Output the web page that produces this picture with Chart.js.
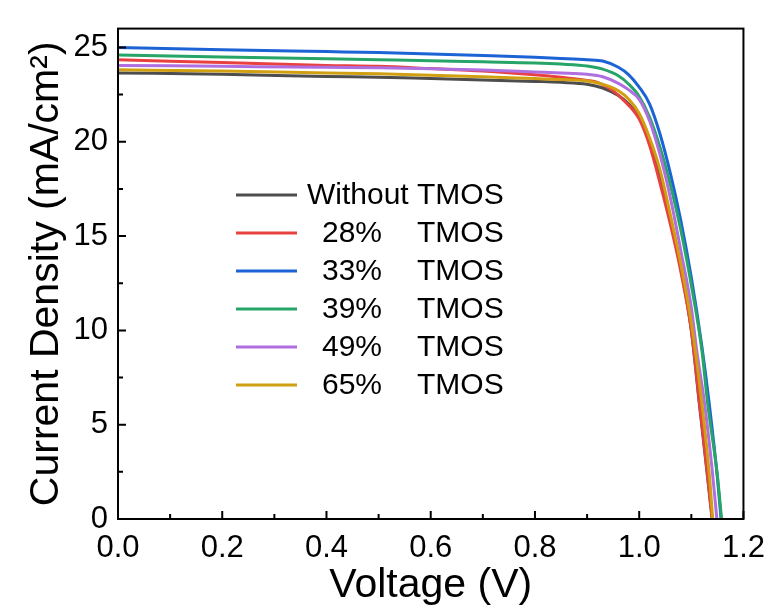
<!DOCTYPE html>
<html>
<head>
<meta charset="utf-8">
<script src="https://cdn.jsdelivr.net/npm/chart.js@4.4.0/dist/chart.umd.min.js"></script>
<style>
  html, body { margin: 0; padding: 0; background: #fff; }
  #wrap { width: 776px; height: 616px; }
</style>
</head>
<body>
<div id="wrap"><canvas id="jv"></canvas></div>
<script>
// J-V curves, voltage (V) and current density (mA/cm2)
var labels = ["Without TMOS", "28% TMOS", "33% TMOS", "39% TMOS", "49% TMOS", "65% TMOS"];
var colors = ["#4d4d4d", "#e8413f", "#1c63d6", "#27a468", "#b06fe0", "#d19f12"];

var vWithout = [0, 0.2, 0.4, 0.5, 0.6, 0.7, 0.8, 0.85, 0.9, 0.93, 0.96, 0.98, 1.0, 1.02, 1.04, 1.06, 1.08, 1.1, 1.115, 1.13, 1.14];
var jWithout = [23.65, 23.58, 23.46, 23.42, 23.35, 23.28, 23.2, 23.15, 23.05, 22.85, 22.45, 22.0, 21.3, 20.0, 18.2, 15.9, 13.3, 10.0, 6.2, 2.5, 0];

var v28 = [0, 0.2, 0.4, 0.5, 0.6, 0.7, 0.8, 0.85, 0.9, 0.92, 0.95, 0.97, 1.0, 1.02, 1.04, 1.06, 1.08, 1.1, 1.115, 1.13, 1.14];
var j28 = [24.35, 24.2, 24.05, 24.0, 23.88, 23.75, 23.55, 23.42, 23.25, 23.15, 22.7, 22.2, 21.2, 19.8, 17.8, 15.6, 13.1, 10.0, 6.3, 2.6, 0];

var v33 = [0, 0.2, 0.4, 0.5, 0.6, 0.7, 0.8, 0.85, 0.9, 0.93, 0.96, 0.98, 1.0, 1.02, 1.04, 1.06, 1.08, 1.1, 1.12, 1.134, 1.15, 1.157];
var j33 = [25.0, 24.88, 24.78, 24.73, 24.65, 24.57, 24.48, 24.42, 24.35, 24.28, 23.95, 23.55, 22.9, 22.0, 20.4, 18.3, 15.8, 12.8, 9.2, 6.2, 2.2, 0];

var v39 = [0, 0.2, 0.4, 0.5, 0.6, 0.7, 0.8, 0.85, 0.9, 0.93, 0.96, 0.98, 1.0, 1.02, 1.04, 1.06, 1.08, 1.1, 1.12, 1.131, 1.15, 1.158];
var j39 = [24.6, 24.5, 24.4, 24.35, 24.3, 24.24, 24.18, 24.12, 24.02, 23.85, 23.5, 23.05, 22.4, 21.3, 19.7, 17.7, 15.3, 12.4, 9.0, 6.2, 2.3, 0];

var v49 = [0, 0.2, 0.4, 0.5, 0.6, 0.7, 0.8, 0.85, 0.9, 0.93, 0.96, 0.98, 1.0, 1.02, 1.04, 1.06, 1.08, 1.1, 1.11, 1.125, 1.14, 1.149];
var j49 = [24.05, 24.0, 23.95, 23.93, 23.87, 23.8, 23.7, 23.65, 23.58, 23.45, 23.1, 22.75, 22.25, 21.1, 19.3, 17.0, 14.2, 11.2, 9.0, 6.2, 2.6, 0];

var v65 = [0, 0.2, 0.4, 0.5, 0.6, 0.7, 0.8, 0.85, 0.9, 0.93, 0.96, 0.98, 1.0, 1.02, 1.04, 1.06, 1.08, 1.1, 1.12, 1.135, 1.141];
var j65 = [23.82, 23.75, 23.65, 23.6, 23.53, 23.45, 23.35, 23.3, 23.22, 23.05, 22.7, 22.25, 21.5, 20.2, 18.5, 16.1, 13.5, 10.4, 6.2, 2.2, 0];

// axis ticks: every tick drawn, labels only on the major ones
var xTicks = [0, 0.1, 0.2, 0.3, 0.4, 0.5, 0.6, 0.7, 0.8, 0.9, 1.0, 1.1, 1.2];
var xTickLabels = ["0.0", "", "0.2", "", "0.4", "", "0.6", "", "0.8", "", "1.0", "", "1.2"];
var yTicks = [0, 2.5, 5, 7.5, 10, 12.5, 15, 17.5, 20, 22.5, 25];
var yTickLabels = ["0", "", "5", "", "10", "", "15", "", "20", "", "25"];

function pts(v, j) {
  var out = [];
  for (var i = 0; i < v.length; i++) out.push({x: v[i], y: j[i]});
  return out;
}

var series = [[vWithout, jWithout], [v28, j28], [v33, j33], [v39, j39], [v49, j49], [v65, j65]];
var datasets = [];
for (var i = 0; i < series.length; i++) {
  datasets.push({
    label: labels[i],
    data: pts(series[i][0], series[i][1]),
    showLine: true,
    borderColor: colors[i],
    backgroundColor: colors[i],
    borderWidth: 3,
    pointRadius: 0,
    cubicInterpolationMode: 'monotone',
    order: series.length - i
  });
}

var FONT = "'Liberation Sans', Arial, sans-serif";

// inward ticks, box frame and in-plot legend
var framePlugin = {
  id: 'frame',
  afterDraw: function(chart) {
    var ctx = chart.ctx, a = chart.chartArea;
    var xs = chart.scales.x, ys = chart.scales.y;
    ctx.save();
    ctx.strokeStyle = '#000';
    ctx.lineWidth = 2;
    ctx.strokeRect(a.left, a.top, a.right - a.left, a.bottom - a.top);
    ctx.beginPath();
    xs.ticks.forEach(function(t, i) {
      var px = xs.getPixelForValue(t.value);
      var len = xTickLabels[i] ? 8 : 5;
      ctx.moveTo(px, a.bottom);
      ctx.lineTo(px, a.bottom - len);
    });
    ys.ticks.forEach(function(t, i) {
      var py = ys.getPixelForValue(t.value);
      var len = yTickLabels[i] ? 8 : 5;
      ctx.moveTo(a.left, py);
      ctx.lineTo(a.left + len, py);
    });
    ctx.stroke();

    // legend
    ctx.font = '30px ' + FONT;
    ctx.textBaseline = 'middle';
    var x0 = 236, x1 = 297, tx = 307, y0 = 195, dy = 38;
    var endX = tx + ctx.measureText(labels[0]).width;
    for (var i = 0; i < labels.length; i++) {
      var y = y0 + i * dy;
      ctx.strokeStyle = colors[i];
      ctx.lineWidth = 3;
      ctx.beginPath();
      ctx.moveTo(x0, y);
      ctx.lineTo(x1, y);
      ctx.stroke();
      ctx.fillStyle = '#000';
      var parts = labels[i].split(' ');
      if (parts[0].indexOf('%') > 0) {
        ctx.textAlign = 'left';
        ctx.fillText(parts[0], 322, y + 1);
        ctx.textAlign = 'right';
        ctx.fillText(parts[1], endX, y + 1);
      } else {
        ctx.textAlign = 'left';
        ctx.fillText(labels[i], tx, y + 1);
      }
    }
    ctx.restore();
  }
};

var ctx = document.getElementById('jv');
var chart = new Chart(ctx, {
  type: 'scatter',
  data: { datasets: datasets },
  options: {
    responsive: true,
    maintainAspectRatio: false,
    animation: false,
    layout: { padding: { top: 16, right: 30, left: 0, bottom: 0 } },
    plugins: { legend: { display: false }, tooltip: { enabled: false } },
    scales: {
      x: {
        type: 'linear',
        min: 0, max: 1.2,
        grid: { display: false, drawTicks: false },
        border: { display: true, color: '#000', width: 2 },
        afterBuildTicks: function(s) {
          s.ticks = xTicks.map(function(v) { return {value: v}; });
        },
        ticks: {
          padding: 11,
          color: '#000',
          maxRotation: 0,
          autoSkip: false,
          font: { family: FONT, size: 31 },
          callback: function(v, i) { return xTickLabels[i]; }
        },
        title: {
          display: true,
          text: 'Voltage (V)',
          color: '#000',
          font: { family: FONT, size: 41 },
          padding: { top: 0, bottom: 6 }
        },
        afterFit: function(s) { s.height = 97; }
      },
      y: {
        min: 0, max: 26,
        grid: { display: false, drawTicks: false },
        border: { display: true, color: '#000', width: 2 },
        afterBuildTicks: function(s) {
          s.ticks = yTicks.map(function(v) { return {value: v}; });
        },
        ticks: {
          padding: 10,
          color: '#000',
          autoSkip: false,
          font: { family: FONT, size: 31 },
          callback: function(v, i) { return yTickLabels[i]; }
        },
        title: {
          display: true,
          text: 'Current Density (mA/cm²)',
          color: '#000',
          font: { family: FONT, size: 41 },
          padding: { top: 22, bottom: 0 }
        },
        afterFit: function(s) { s.width = 118; }
      }
    }
  },
  plugins: [framePlugin]
});
</script>
</body>
</html>
